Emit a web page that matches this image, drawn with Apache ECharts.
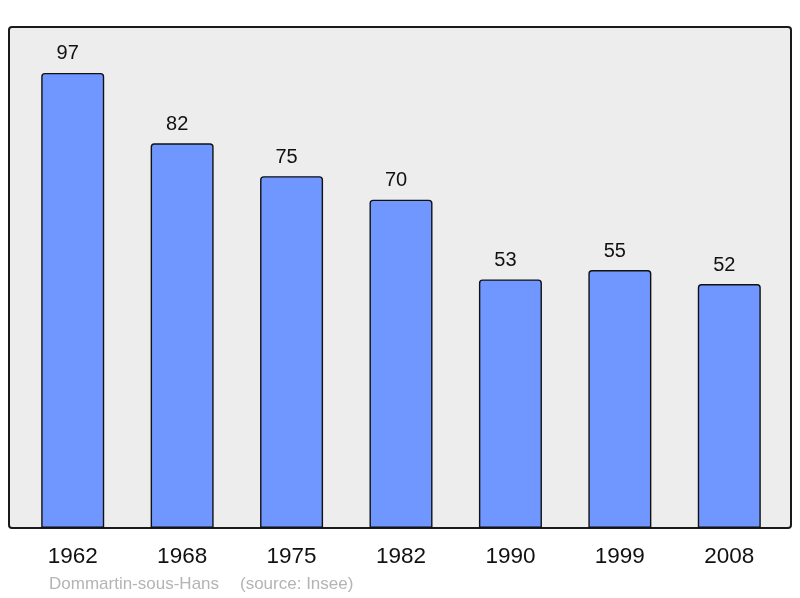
<!DOCTYPE html>
<html><head><meta charset="utf-8">
<script src="https://cdn.jsdelivr.net/npm/echarts@6/dist/echarts.min.js"></script>
<style>html,body{margin:0;padding:0;background:#fff;}#c{width:800px;height:598px;}</style>
</head><body><div id="c"></div>
<script>
const years = ['1962','1968','1975','1982','1990','1999','2008'];
const population = [97, 82, 75, 70, 53, 55, 52];
const footerName = 'Dommartin-sous-Hans';
const footerSource = '(source: Insee)';

const chart = echarts.init(document.getElementById('c'), null, {renderer:'canvas'});
chart.setOption({
  animation: false,
  backgroundColor: '#ffffff',
  grid: {left: 18, right: 16, top: 27, bottom: 70},
  graphic: [
    {type:'rect', z: -10, shape:{x:9, y:27, width:782, height:501, r:3},
     style:{fill:'#ededed', stroke:'#1a1a1a', lineWidth:2}},
    {type:'text', left: 49, top: 576, style:{text: footerName, fill:'#b4b4b4', font:'17px "Liberation Sans", Arial, sans-serif'}},
    {type:'text', left: 240, top: 576, style:{text: footerSource, fill:'#b4b4b4', font:'17px "Liberation Sans", Arial, sans-serif'}}
  ],
  xAxis: {
    type:'category', data: years,
    axisLine:{show:false}, axisTick:{show:false},
    axisLabel:{color:'#111', fontSize:22.5, fontFamily:'"Liberation Sans", Arial, sans-serif', margin:17}
  },
  yAxis: {
    type:'value', min:0, max:106.8,
    show:false, splitLine:{show:false}
  },
  series: [{
    type:'bar', data: population, barWidth: 63,
    itemStyle:{color:'#7096ff', borderColor:'#111', borderWidth:1.4, borderRadius:[3,3,0,0]},
    label:{show:true, position:'top', distance:9, offset:[-5,0], color:'#111', fontSize:20,
      fontFamily:'"Liberation Sans", Arial, sans-serif'}
  }]
});
</script></body></html>
